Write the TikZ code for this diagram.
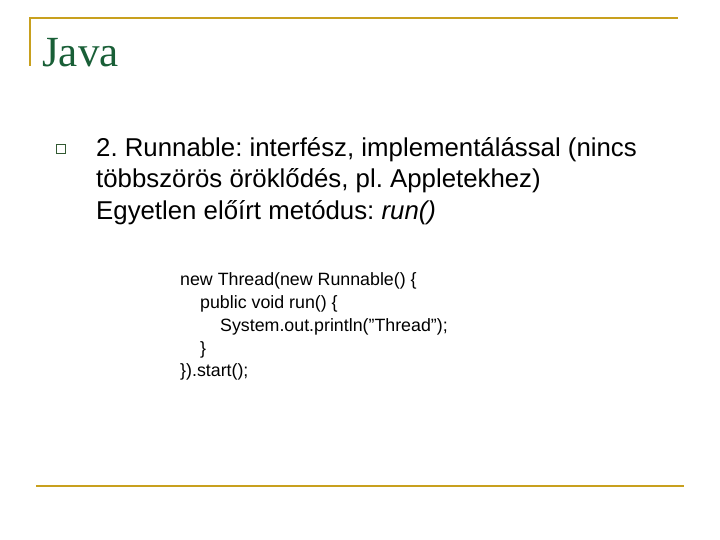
\documentclass[tikz,border=0pt]{standalone}
\usepackage{fontspec}
\setmainfont{Liberation Sans}
\newfontfamily\serifj{Liberation Serif}
\definecolor{gold}{RGB}{200,160,30}
\definecolor{titlegreen}{RGB}{25,95,55}
\definecolor{bulletgreen}{RGB}{50,90,50}
\begin{document}
\frenchspacing
\begin{tikzpicture}[x=1pt,y=-1pt,
  txt/.style={anchor=base west,inner sep=0pt,font=\fontsize{25.8}{28}\selectfont},
  code/.style={anchor=base west,inner sep=0pt,font=\fontsize{17.8}{20}\selectfont}]
\useasboundingbox[fill=white] (0,0) rectangle (720,540);
\draw[gold,line width=2.5pt] (30,66) -- (30,18) -- (678,18);
\draw[gold,line width=2.5pt] (36,486) -- (684,486);
\node[anchor=base west,inner sep=0pt,text=titlegreen,font=\serifj\fontsize{43}{45}\selectfont] (title) at (42,67) {Java};
\node[draw=bulletgreen,line width=0.9pt,minimum size=8.5pt,inner sep=0pt] (bul) at (61,149) {};
\node[txt] (l1) at (96,157) {2. Runnable: interfész, implementálással (nincs};
\node[txt] (l2) at (96,188) {többszörös öröklődés, pl. Appletekhez)};
\node[txt] (l3) at (96,219) {Egyetlen előírt metódus: \textit{run()}};
\node[code] (c1) at (180,285) {new Thread(new Runnable() \{};
\node[code] (c2) at (200,308) {public void run() \{};
\node[code] (c3) at (220,331) {System.out.println(”Thread”);};
\node[code] (c4) at (200,354) {\}};
\node[code] (c5) at (180,376) {\}).start();};
\end{tikzpicture}
\end{document}
